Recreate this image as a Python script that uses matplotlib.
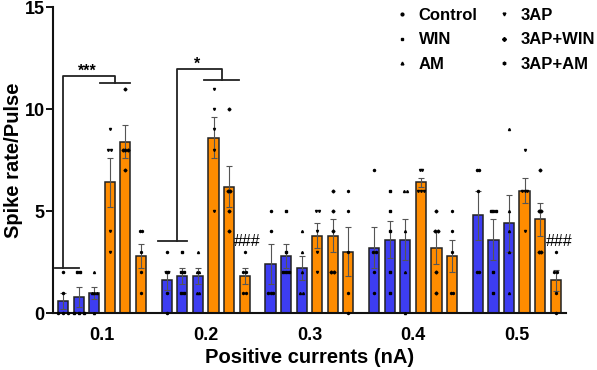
import matplotlib.pyplot as plt
from matplotlib.lines import Line2D
import numpy as np

plt.rcParams['font.family'] = ['Liberation Sans', 'DejaVu Sans']
plt.rcParams['font.weight'] = 'bold'

currents = ['0.1', '0.2', '0.3', '0.4', '0.5']
groups = ['Control', 'WIN', 'AM', '3AP', '3AP+WIN', '3AP+AM']

means = {
    'Control': [0.6, 1.6, 2.4, 3.2, 4.8],
    'WIN':     [0.8, 1.8, 2.8, 3.6, 3.6],
    'AM':      [1.0, 1.8, 2.2, 3.6, 4.4],
    '3AP':     [6.4, 8.6, 3.8, 6.4, 6.0],
    '3AP+WIN': [8.4, 6.2, 3.8, 3.2, 4.6],
    '3AP+AM':  [2.8, 1.8, 3.0, 2.8, 1.6],
}
sems = {
    'Control': [0.4, 0.45, 1.0, 1.0, 1.2],
    'WIN':     [0.5, 0.4, 0.6, 0.9, 1.0],
    'AM':      [0.3, 0.4, 0.6, 1.0, 1.4],
    '3AP':     [1.2, 1.0, 0.6, 0.2, 0.6],
    '3AP+WIN': [0.8, 1.0, 0.8, 0.8, 0.8],
    '3AP+AM':  [0.6, 0.4, 1.2, 0.8, 0.5],
}
points = {
    'Control': [[2, 1, 0, 0, 0], [3, 2, 2, 1, 0], [5, 4, 1, 1, 1], [7, 3, 3, 2, 1], [7, 7, 6, 2, 2]],
    'WIN':     [[2, 2, 0, 0, 0], [3, 2, 2, 1, 1], [5, 3, 2, 2, 2], [6, 5, 4, 2, 1], [5, 5, 5, 2, 1]],
    'AM':      [[2, 1, 1, 1, 0], [3, 2, 2, 1, 1], [4, 3, 2, 1, 1], [6, 6, 4, 2, 0], [9, 5, 4, 3, 1]],
    '3AP':     [[9, 8, 8, 4, 3], [11, 10, 9, 8, 5], [5, 5, 4, 3, 2], [7, 7, 6, 6, 6], [8, 6, 6, 6, 4]],
    '3AP+WIN': [[11, 8, 8, 8, 7], [10, 6, 6, 5, 4], [6, 5, 4, 2, 2], [5, 4, 4, 2, 1], [7, 5, 5, 3, 3]],
    '3AP+AM':  [[4, 4, 3, 2, 1], [3, 2, 2, 1, 1], [6, 5, 3, 1, 0], [5, 4, 3, 1, 1], [3, 2, 2, 1, 0]],
}

colors = ['#3d3df2'] * 3 + ['#ff8c00'] * 3
markers = ['o', 's', '^', 'v', 'D', 'h']

fig = plt.figure(figsize=(5.97, 3.70), dpi=100)
ax = fig.add_axes([0.0888, 0.154, 0.859, 0.827])

step = 0.15
width = 0.098
xc = np.arange(len(currents))

for i, g in enumerate(groups):
    xs = xc + (i - 2.5) * step
    ax.bar(xs, means[g], width, color=colors[i], edgecolor='#222222', linewidth=1.1, zorder=2)
    ax.errorbar(xs, means[g], yerr=sems[g], fmt='none', ecolor='#555555',
                elinewidth=0.8, capsize=2.5, capthick=0.8, zorder=3)
    for j, vals in enumerate(points[g]):
        vals = np.array(vals, dtype=float)
        for v in np.unique(vals):
            k = int((vals == v).sum())
            offs = (np.arange(k) - (k - 1) / 2) * 0.026
            if v == 0:
                offs = (np.arange(k) - (k - 1) / 2) * 0.05
            ax.plot(xs[j] + offs, [v] * k, linestyle='none', marker=markers[i],
                    markersize=1.5, color='black', zorder=4, clip_on=False)

# significance brackets
lw = 1.3
bc = '#222222'
ax.plot([-0.454, -0.222], [2.2, 2.2], color=bc, lw=lw)
ax.plot([-0.375, -0.375, 0.126, 0.126], [2.2, 11.6, 11.6, 11.3], color=bc, lw=lw)
ax.plot([-0.02, 0.27], [11.3, 11.3], color=bc, lw=lw)
ax.text(-0.145, 11.5, '***', ha='center', va='bottom', fontsize=11.5)

ax.plot([0.54, 0.82], [3.55, 3.55], color=bc, lw=lw)
ax.plot([0.725, 0.725, 1.16, 1.16], [3.55, 11.95, 11.95, 11.4], color=bc, lw=lw)
ax.plot([0.985, 1.32], [11.4, 11.4], color=bc, lw=lw)
ax.text(0.92, 11.85, '*', ha='center', va='bottom', fontsize=11.5)

ax.text(1.405, 3.5, '###', ha='center', va='center', fontsize=11.5, fontweight='normal')
ax.text(4.405, 3.5, '###', ha='center', va='center', fontsize=11.5, fontweight='normal')

ax.set_xlim(-0.473, 4.473)
ax.set_ylim(0, 15)
ax.set_yticks([0, 5, 10, 15])
ax.set_xticks(xc)
ax.set_xticklabels(currents)
ax.tick_params(axis='x', length=0, pad=10, labelsize=13)
ax.tick_params(axis='y', length=5, width=1.3, labelsize=13, pad=1)
for s in ['top', 'right']:
    ax.spines[s].set_visible(False)
for s in ['left', 'bottom']:
    ax.spines[s].set_linewidth(1.5)
    ax.spines[s].set_color('#111111')

ax.set_xlabel('Positive currents (nA)', fontsize=14.5, fontweight='bold', labelpad=3)
ax.set_ylabel('Spike rate/Pulse', fontsize=14.5, fontweight='bold', labelpad=1)

handles = [Line2D([], [], linestyle='none', marker=m, markersize=2.0, color='black') for m in markers]
ax.legend(handles, groups, ncol=2, frameon=False, loc='upper left',
          bbox_to_anchor=(0.635, 1.045), handletextpad=0.5,
          columnspacing=1.1, labelspacing=0.55, handlelength=1.0,
          prop={'weight': 'bold', 'size': 12})

fig.savefig('out.png', dpi=100)
